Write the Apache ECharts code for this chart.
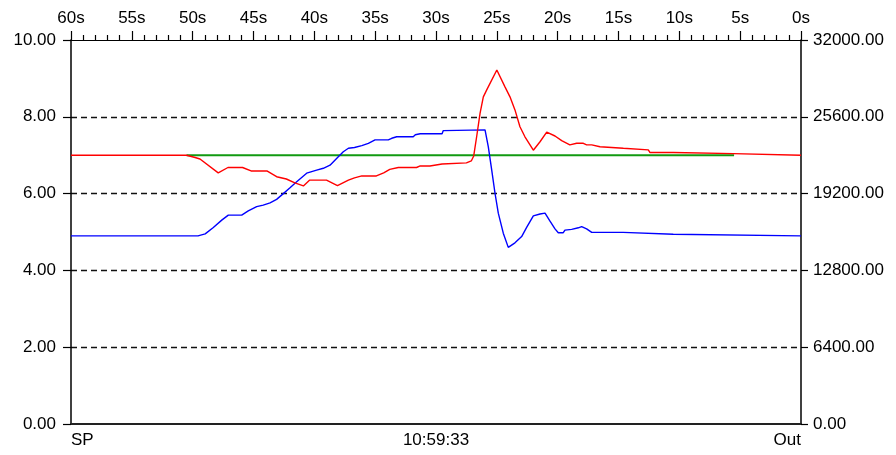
<!DOCTYPE html>
<html>
<head>
<meta charset="utf-8">
<script src="https://cdn.jsdelivr.net/npm/echarts@6/dist/echarts.min.js"></script>
<style>
  html, body { margin: 0; padding: 0; background: #fff; }
  #chart { width: 896px; height: 455px; }
</style>
</head>
<body>
<div id="chart"></div>
<script>
// Trend window: seconds before "now" (60s on the left, 0s on the right)
const redTime = [60, 50.5, 49.8, 49.4, 47.9, 47.1, 45.9, 45.2, 43.9, 43.1, 42.3, 41.6, 40.9, 40.4, 39.0, 38.1, 37.2, 36.7, 36.1, 34.9, 34.3, 33.8, 33.1, 31.6, 31.3, 30.5, 30.4, 29.5, 29.4, 27.5, 27.1, 26.9, 26.66, 26.38, 26.11, 25.83, 25.0, 24.33, 23.92, 23.51, 23.1, 22.69, 22.0, 21.45, 20.9, 20.22, 19.67, 19.0, 18.44, 17.89, 17.62, 17.2, 17.07, 16.52, 16.38, 14.6, 14.47, 12.55, 12.41, 10.5, 10.36, 5.57, 5.43, 0];
const redValues = [7.0, 7.0, 6.94, 6.9, 6.54, 6.68, 6.68, 6.59, 6.59, 6.44, 6.38, 6.28, 6.2, 6.35, 6.35, 6.21, 6.35, 6.41, 6.46, 6.46, 6.54, 6.63, 6.68, 6.68, 6.72, 6.72, 6.77, 6.77, 6.8, 6.8, 6.85, 6.98, 7.48, 8.09, 8.52, 8.7, 9.22, 8.78, 8.52, 8.18, 7.74, 7.48, 7.13, 7.35, 7.6, 7.5, 7.38, 7.27, 7.31, 7.31, 7.27, 7.27, 7.22, 7.22, 7.18, 7.18, 7.14, 7.14, 7.07, 7.07, 7.04, 7.04, 7.0, 7.0];

const blueTime = [60, 49.56, 48.97, 48.3, 47.61, 47.07, 45.97, 45.43, 44.74, 44.2, 43.64, 43.1, 42.55, 42.0, 41.45, 40.63, 39.81, 39.26, 38.71, 38.03, 37.62, 37.2, 36.7, 36.1, 35.56, 35.01, 33.92, 33.64, 33.23, 31.87, 31.7, 31.3, 29.5, 29.4, 25.97, 25.7, 25.42, 25.15, 24.88, 24.47, 24.06, 23.51, 22.96, 22.55, 22.0, 21.45, 21.04, 20.63, 20.22, 19.95, 19.54, 19.4, 18.85, 18.3, 18.03, 17.62, 17.2, 14.61, 14.47, 10.5, 10.36, 0];
const blueValues = [15680, 15680, 15840, 16380, 16990, 17410, 17410, 17760, 18110, 18240, 18430, 18720, 19200, 19680, 20190, 20900, 21150, 21310, 21570, 22270, 22690, 22980, 23040, 23200, 23390, 23680, 23680, 23810, 23940, 23940, 24100, 24190, 24190, 24450, 24510, 23100, 21150, 19230, 17570, 15900, 14720, 15100, 15620, 16380, 17340, 17500, 17570, 16900, 16260, 15940, 15940, 16160, 16220, 16350, 16450, 16260, 15970, 15970, 15810, 15810, 15680, 15680];

const greenTime = [50.5, 5.5];
const greenValues = [7.0, 7.0];

const topTicks = { min: 0, max: 60, step: 5 };
const leftAxis = { min: 0, max: 10, step: 2 };
const rightAxis = { min: 0, max: 32000, step: 6400 };
const bottomLabels = ['SP', '10:59:33', 'Out'];

const pairs = (xs, ys) => xs.map((x, i) => [x, ys[i]]);

const FONT = "'Liberation Sans', Arial, sans-serif";
const labelStyle = { color: '#000', fontFamily: FONT, fontSize: 17 };

const chart = echarts.init(document.getElementById('chart'), null, { renderer: 'canvas' });

chart.setOption({
  animation: false,
  backgroundColor: '#fff',
  grid: { left: 71, right: 95, top: 40, bottom: 31, containLabel: false },
  xAxis: [
    {
      type: 'value',
      position: 'top',
      inverse: true,
      min: topTicks.min,
      max: topTicks.max,
      interval: topTicks.step,
      axisLine: { show: true, onZero: false, lineStyle: { color: '#000', width: 1.2 } },
      axisTick: { show: true, length: 9, lineStyle: { color: '#000', width: 1.2 } },
      minorTick: { show: true, splitNumber: 5, length: 5, lineStyle: { color: '#000', width: 1.2 } },
      splitLine: { show: false },
      minorSplitLine: { show: false },
      axisLabel: Object.assign({ margin: 13, formatter: v => v + 's' }, labelStyle)
    },
    {
      type: 'category',
      position: 'bottom',
      boundaryGap: false,
      data: bottomLabels,
      axisLine: { show: true, onZero: false, lineStyle: { color: '#222', width: 2 } },
      axisTick: { show: false },
      splitLine: { show: false },
      axisLabel: Object.assign({ margin: 8, interval: 0, alignMinLabel: 'left', alignMaxLabel: 'right' }, labelStyle)
    }
  ],
  yAxis: [
    {
      type: 'value',
      position: 'left',
      min: leftAxis.min,
      max: leftAxis.max,
      interval: leftAxis.step,
      axisLine: { show: true, onZero: false, lineStyle: { color: '#000', width: 1.5 } },
      axisTick: { show: true, length: 8, lineStyle: { color: '#000', width: 1.2 } },
      splitLine: {
        show: true,
        showMinLine: false,
        showMaxLine: false,
        lineStyle: { color: '#111', width: 1.3, type: [6, 4] }
      },
      axisLabel: Object.assign({ margin: 15, formatter: v => v.toFixed(2) }, labelStyle)
    },
    {
      type: 'value',
      position: 'right',
      min: rightAxis.min,
      max: rightAxis.max,
      interval: rightAxis.step,
      axisLine: { show: true, onZero: false, lineStyle: { color: '#000', width: 1.5 } },
      axisTick: { show: true, length: 7, lineStyle: { color: '#000', width: 1.2 } },
      splitLine: { show: false },
      axisLabel: Object.assign({ margin: 12, formatter: v => v.toFixed(2) }, labelStyle)
    }
  ],
  series: [
    {
      name: 'SP',
      type: 'line',
      xAxisIndex: 0,
      yAxisIndex: 0,
      data: pairs(greenTime, greenValues),
      symbol: 'none',
      lineStyle: { color: '#119a11', width: 2 },
      z: 2
    },
    {
      name: 'Out',
      type: 'line',
      xAxisIndex: 0,
      yAxisIndex: 1,
      data: pairs(blueTime, blueValues),
      symbol: 'none',
      lineStyle: { color: '#0000ff', width: 1.4 },
      z: 3
    },
    {
      name: 'PV',
      type: 'line',
      xAxisIndex: 0,
      yAxisIndex: 0,
      data: pairs(redTime, redValues),
      symbol: 'none',
      lineStyle: { color: '#ff0000', width: 1.4 },
      z: 4
    }
  ]
});
</script>
</body>
</html>
